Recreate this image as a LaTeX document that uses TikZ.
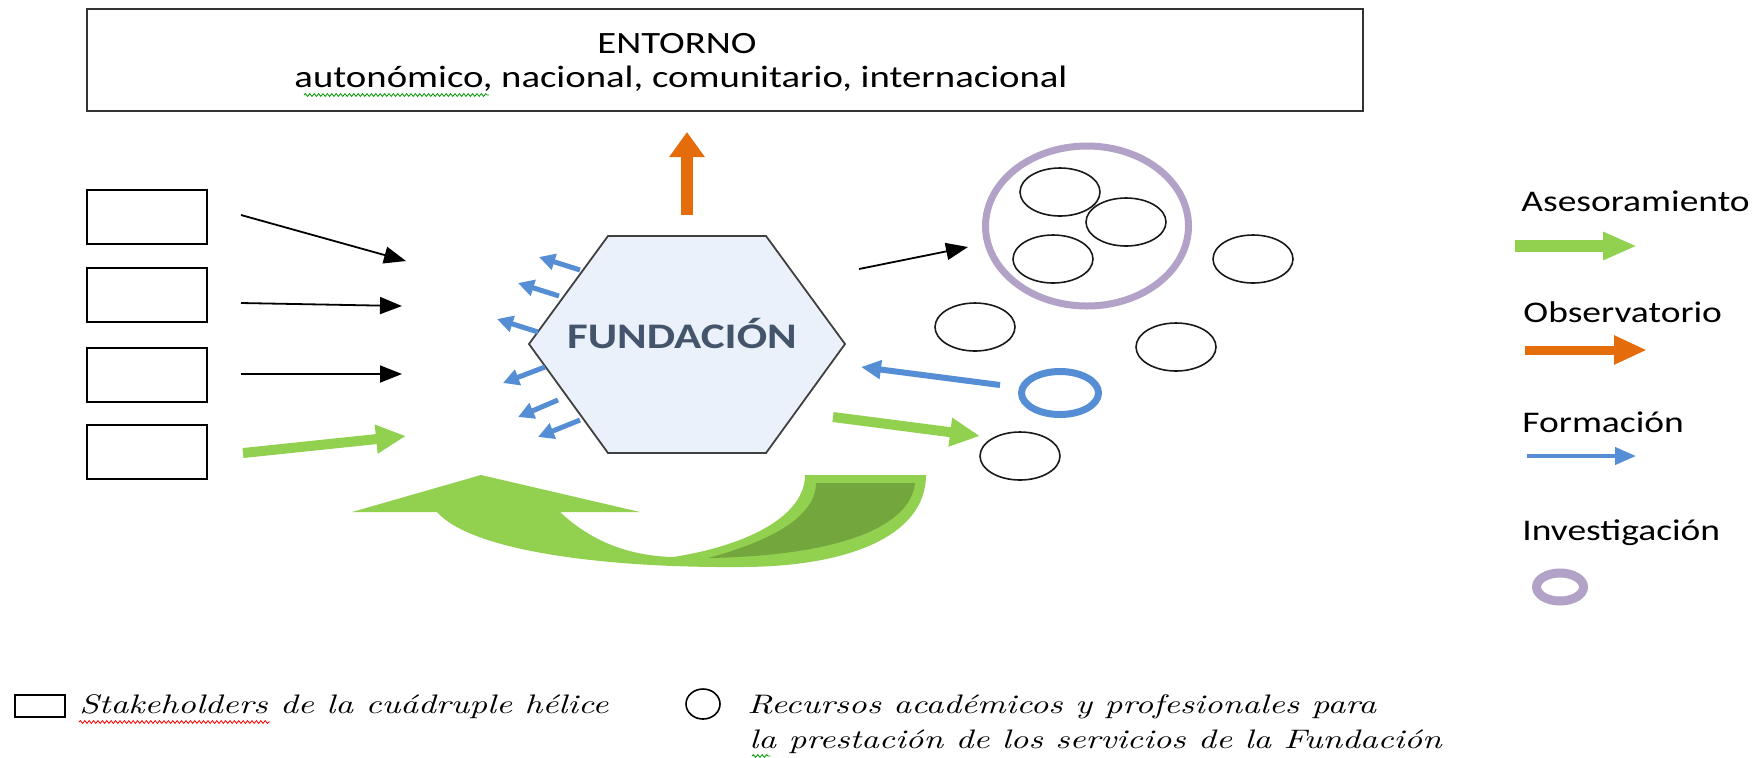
\documentclass[tikz,border=0pt]{standalone}
\usepackage{fontspec}
\setmainfont{Carlito}[FakeStretch=1.25]
\newfontfamily\legfont{lmroman10}[Extension=.otf, UprightFont=*-regular, ItalicFont=*-italic, FakeStretch=1.3]
\usetikzlibrary{arrows.meta, shapes.geometric, decorations.pathmorphing}

\definecolor{asegreen}{HTML}{92D050}
\definecolor{asedark}{HTML}{74A63E}
\definecolor{obsorange}{HTML}{E46C0A}
\definecolor{formblue}{HTML}{558ED5}
\definecolor{invpurple}{HTML}{B3A2C7}
\definecolor{hexfill}{HTML}{EAF1FA}
\definecolor{fundtext}{HTML}{44546A}

\begin{document}
\begin{tikzpicture}[
    x=0.5pt,
    y=0.5pt,
    yscale=-1,
    shbox/.style={draw, line width=1pt, minimum width=60pt, minimum height=27pt, inner sep=0pt},
    res/.style={draw=black!90, ellipse, line width=0.8pt, minimum width=40pt, minimum height=24pt, inner sep=0pt},
    ring/.style={draw=#1, ellipse, inner sep=0pt},
    blk/.style={-{Triangle[length=11pt, width=8.5pt]}, line width=0.9pt},
    ase/.style={asegreen, line width=5pt, -{Triangle[length=15pt, width=13.5pt]}},
    form/.style={formblue, line width=2.5pt, -{Triangle[length=8pt, width=8pt]}},
    obs/.style={obsorange, line width=6pt, -{Triangle[length=12.5pt, width=17pt]}},
    txt/.style={font=\fontsize{15}{17}\selectfont, anchor=base west, inner sep=0pt},
    envline/.style={font=\fontsize{15.5}{17}\selectfont, anchor=base, inner sep=0pt},
    legtxt/.style={font=\fontsize{13.4}{17.5}\selectfont\legfont\itshape, anchor=base west, inner sep=0pt},
    wavy/.style={decorate, decoration={snake, amplitude=0.7pt, segment length=2.2pt}, line width=0.4pt}
]
    \useasboundingbox (0,0) rectangle (1754,757);

    \node[draw=black!80, line width=1pt, minimum width=638pt, minimum height=51pt] (env) at (725,60) {};
    \node[envline] (envtit) at (677,53) {ENTORNO};
    \node[envline] (envsub) at (681,87) {autonómico, nacional, comunitario, internacional};
    \draw[wavy, green!60!black] (304,95) -- (489,95);

    \node[shbox] (s1) at (147,217) {};
    \node[shbox] (s2) at (147,295) {};
    \node[shbox] (s3) at (147,375) {};
    \node[shbox] (s4) at (147,452) {};

    \draw[draw=black!75, fill=hexfill, line width=0.9pt]
        (529,344) -- (608,236) -- (766,236) -- (845,344) -- (766,453) -- (608,453) -- cycle;
    \node[font=\fontsize{18}{20}\selectfont\bfseries, text=fundtext, anchor=base] (fund) at (682,348) {FUNDACIÓN};

    \coordinate (o1) at (687,215);
    \coordinate (o2) at (687,132);
    \draw[obs] (o1) -- (o2);

    \coordinate (a1) at (241,215);  \coordinate (b1) at (406,261);
    \coordinate (a2) at (241,303);  \coordinate (b2) at (402,306);
    \coordinate (a3) at (241,374);  \coordinate (b3) at (402,374);
    \coordinate (a4) at (243,453);  \coordinate (b4) at (406,436);
    \draw[blk] (a1) -- (b1);
    \draw[blk] (a2) -- (b2);
    \draw[blk] (a3) -- (b3);
    \draw[ase] (a4) -- (b4);

    \coordinate (f1) at (580,270);  \coordinate (g1) at (539,257);
    \coordinate (f2) at (559,296);  \coordinate (g2) at (518,283);
    \coordinate (f3) at (538,332);  \coordinate (g3) at (497,319);
    \coordinate (f4) at (545,367);  \coordinate (g4) at (503,383);
    \coordinate (f5) at (558,400);  \coordinate (g5) at (518,417);
    \coordinate (f6) at (580,420);  \coordinate (g6) at (538,437);
    \draw[form] (f1) -- (g1);
    \draw[form] (f2) -- (g2);
    \draw[form] (f3) -- (g3);
    \draw[form] (f4) -- (g4);
    \draw[form] (f5) -- (g5);
    \draw[form] (f6) -- (g6);

    \node[ring=invpurple, line width=3.5pt, minimum width=101.5pt, minimum height=80pt] (grp) at (1087,226) {};
    \node[res] (r1) at (1060,192) {};
    \node[res] (r2) at (1126,222) {};
    \node[res] (r3) at (1053,259) {};
    \node[res] (r4) at (975,327) {};
    \node[res] (r5) at (1176,347) {};
    \node[res] (r6) at (1020,456) {};
    \node[res] (r7) at (1253,259) {};
    \node[ring=formblue, line width=3.5pt, minimum width=38.5pt, minimum height=21.5pt] (rb) at (1060,393) {};

    \coordinate (c1) at (859,269);  \coordinate (d1) at (968,247);
    \coordinate (c2) at (1000,385); \coordinate (d2) at (861,367);
    \coordinate (c3) at (833,417);  \coordinate (d3) at (980,436);
    \draw[blk] (c1) -- (d1);
    \draw[formblue, line width=3pt, -{Triangle[length=10pt, width=9pt]}] (c2) -- (d2);
    \draw[ase] (c3) -- (d3);

    \fill[asegreen] (352,512) -- (481,475) -- (640,512) -- (560,512)
        .. controls (595,545) and (635,556) .. (673,557)
        .. controls (750,545) and (805,515) .. (805,475)
        -- (926,475)
        .. controls (926,535) and (850,567) .. (740,567)
        .. controls (600,568) and (470,550) .. (437,512) -- cycle;
    \fill[asedark] (816,483) -- (915,483)
        .. controls (910,530) and (830,556) .. (708,558)
        .. controls (775,540) and (816,515) .. (816,483) -- cycle;

    \node[txt] (l1) at (1521,211) {Asesoramiento};
    \coordinate (l1a) at (1515,246); \coordinate (l1b) at (1637,246);
    \draw[asegreen, line width=6pt, -{Triangle[length=17pt, width=13pt]}] (l1a) -- (l1b);
    \node[txt] (l2) at (1523,322) {Observatorio};
    \coordinate (l2a) at (1525,350); \coordinate (l2b) at (1647,350);
    \draw[obsorange, line width=4.5pt, -{Triangle[length=16.5pt, width=13.5pt]}] (l2a) -- (l2b);
    \node[txt] (l3) at (1522,432) {Formación};
    \coordinate (l3a) at (1527,456); \coordinate (l3b) at (1636,456);
    \draw[formblue, line width=2pt, -{Triangle[length=10.5pt, width=8.5pt]}] (l3a) -- (l3b);
    \node[txt] (l4) at (1522,540) {Investigación};
    \node[ring=invpurple, line width=4.5pt, minimum width=23.5pt, minimum height=14pt] (l4r) at (1560,587) {};

    \node[draw, line width=1pt, minimum width=25pt, minimum height=11pt, inner sep=0pt] (keybox) at (40,706) {};
    \node[legtxt] (keyboxtxt) at (79,713) {Stakeholders de la cuádruple hélice};
    \draw[wavy, red] (79,722) -- (270,722);
    \node[draw, ellipse, line width=0.8pt, minimum width=17pt, minimum height=15pt, inner sep=0pt] (keyres) at (703,704) {};
    \node[legtxt] (keyrestxt) at (747,713) {Recursos académicos y profesionales para};
    \node[legtxt] (keyrestxtb) at (749,748) {la prestación de los servicios de la Fundación};
    \draw[wavy, green!60!black] (752,756) -- (770,756);
\end{tikzpicture}
\end{document}
